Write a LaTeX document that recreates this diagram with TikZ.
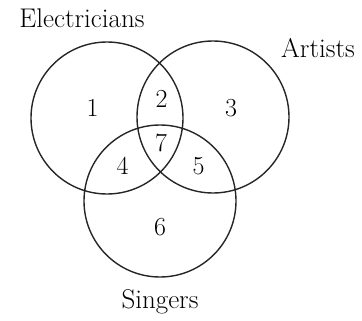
\documentclass[tikz,border=0pt]{standalone}
\begin{document}
\begin{tikzpicture}[x=1pt,y=-1pt,
  setcircle/.style={draw=black!85,line width=1.4pt,circle,minimum size=152pt,inner sep=0pt},
  lab/.style={font=\fontsize{27}{30}\selectfont,inner sep=0pt,anchor=base},
  num/.style={font=\fontsize{26}{30}\selectfont,inner sep=0pt,anchor=base}]
\useasboundingbox (0,0) rectangle (362,321);
\node[setcircle] (E) at (107,118) {};
\node[setcircle] (A) at (213,117) {};
\node[setcircle] (S) at (160,201) {};
\node[lab] (tE) at (82,28) {Electricians};
\node[lab] (tA) at (318,58) {Artists};
\node[lab] (tS) at (160,308) {Singers};
\node[num] (n1) at (92.5,117) {1};
\node[num] (n2) at (161.5,108) {2};
\node[num] (n3) at (231,117) {3};
\node[num] (n7) at (161,152) {7};
\node[num] (n4) at (122.5,175) {4};
\node[num] (n5) at (198.5,175) {5};
\node[num] (n6) at (160,235) {6};
\end{tikzpicture}
\end{document}
